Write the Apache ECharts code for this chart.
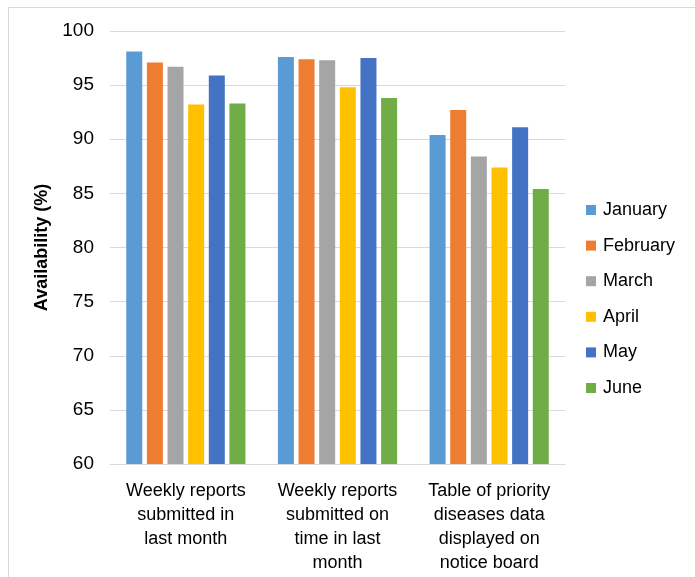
<!DOCTYPE html>
<html>
<head>
<meta charset="utf-8">
<script src="https://cdn.jsdelivr.net/npm/echarts@6/dist/echarts.min.js"></script>
<style>
  html, body { margin: 0; padding: 0; background: #fff; }
  #main { width: 695px; height: 577px; }
  #frame { position: absolute; left: 8px; top: 7px; width: 700px; height: 600px; border: 1px solid #d9d9d9; pointer-events: none; }
</style>
</head>
<body>
<div id="main"></div>
<div id="frame"></div>
<script>
// 分类与数据
var categories = [
  'Weekly reports\nsubmitted in\nlast month',
  'Weekly reports\nsubmitted on\ntime in last\nmonth',
  'Table of priority\ndiseases data\ndisplayed on\nnotice board'
];
var months = ['January', 'February', 'March', 'April', 'May', 'June'];
var colors = ['#5b9bd5', '#ed7d31', '#a5a5a5', '#ffc000', '#4472c4', '#70ad47'];
var january = [98.1, 97.6, 90.4];
var february = [97.1, 97.4, 92.7];
var march = [96.7, 97.3, 88.4];
var april = [93.2, 94.8, 87.4];
var may = [95.9, 97.5, 91.1];
var june = [93.3, 93.8, 85.4];
var values = [january, february, march, april, may, june];

var myChart = echarts.init(document.getElementById('main'));

var series = months.map(function (m, i) {
  return {
    name: m,
    type: 'bar',
    data: values[i],
    barWidth: 16,
    barGap: '29%',
    itemStyle: { color: colors[i] }
  };
});

var option = {
  animation: false,
  textStyle: { fontFamily: 'Liberation Sans, Arial, sans-serif' },
  grid: { left: 110, right: 130, top: 31, bottom: 113 },
  legend: {
    orient: 'vertical',
    left: 581,
    top: 196,
    itemWidth: 10,
    itemHeight: 10,
    itemGap: 17.6,
    icon: 'rect',
    textStyle: { fontSize: 18, color: '#000', padding: [0, 0, 0, 2] },
    data: months
  },
  xAxis: {
    type: 'category',
    data: categories,
    axisLine: { lineStyle: { color: '#d9d9d9' } },
    axisTick: { show: false },
    axisLabel: { fontSize: 18, color: '#000', lineHeight: 24, interval: 0, margin: 15 }
  },
  yAxis: {
    type: 'value',
    min: 60,
    max: 100,
    interval: 5,
    name: 'Availability (%)',
    nameLocation: 'middle',
    nameGap: 58,
    nameTextStyle: { fontSize: 18, fontWeight: 'bold', color: '#000' },
    axisLine: { show: false },
    axisTick: { show: false },
    axisLabel: { fontSize: 19, color: '#000', margin: 16 },
    splitLine: { lineStyle: { color: '#d9d9d9' } }
  },
  series: series
};

myChart.setOption(option);
</script>
</body>
</html>
